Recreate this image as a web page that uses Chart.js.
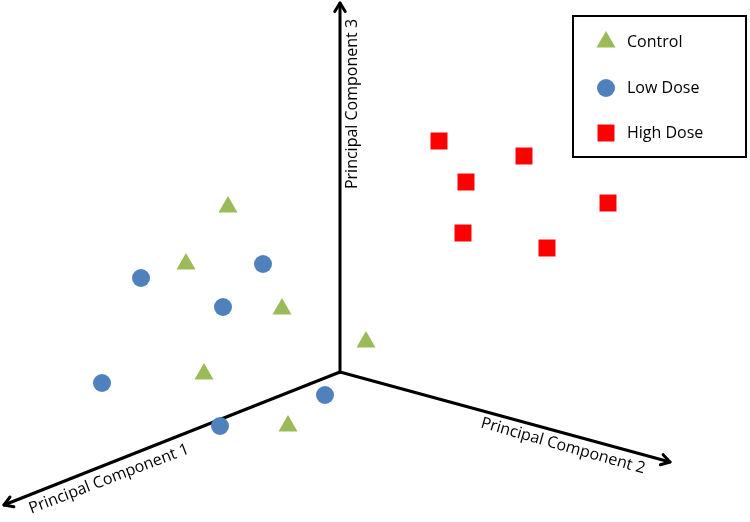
<!DOCTYPE html>
<html lang="en">
<head>
  <meta charset="UTF-8">
  <title>PCA</title>
  <script src="https://cdn.jsdelivr.net/npm/chart.js"></script>
  <style>
    body { margin: 0; background: #fff; }
    #pca { display: block; }
  </style>
</head>
<body>
  <canvas id="pca" width="750" height="522"></canvas>

  <script>
    // groups + projected scores (x right, y up)
    const categories = ['Control', 'Low Dose', 'High Dose'];
    const controlX = [228, 186, 282, 366, 204, 288];
    const controlY = [315, 258, 213, 180, 148, 96];
    const lowX = [141, 263, 223, 102, 325, 220];
    const lowY = [244, 258, 215, 139, 127, 96];
    const highX = [439, 524, 466, 608, 463, 547];
    const highY = [381, 366, 340, 319, 289, 274];

    // component axes, drawn from a common origin
    const axisNames = ['Principal Component 1', 'Principal Component 2', 'Principal Component 3'];
    const axisOrigin = [340, 150];
    const axisEndX = [4, 670, 340];
    const axisEndY = [17, 60, 519];

    const colors = ['#9BBB59', '#4F81BD', '#FF0000'];
    const styles = ['triangle', 'circle', 'rect'];
    const radii = [11, 9, 12];

    const toPoints = (xs, ys) => xs.map((x, i) => ({ x: x, y: ys[i] }));
    const groups = [toPoints(controlX, controlY), toPoints(lowX, lowY), toPoints(highX, highY)];

    const font = '16px "Open Sans", sans-serif';

    const axesPlugin = {
      id: 'axes3d',
      beforeDatasetsDraw(chart) {
        const ctx = chart.ctx;
        const sx = chart.scales.x, sy = chart.scales.y;
        const ox = sx.getPixelForValue(axisOrigin[0]);
        const oy = sy.getPixelForValue(axisOrigin[1]);
        ctx.save();
        ctx.strokeStyle = '#000';
        ctx.lineWidth = 3;
        ctx.lineCap = 'round';
        ctx.lineJoin = 'round';
        axisNames.forEach((name, i) => {
          const ex = sx.getPixelForValue(axisEndX[i]);
          const ey = sy.getPixelForValue(axisEndY[i]);
          const ang = Math.atan2(ey - oy, ex - ox);
          ctx.beginPath();
          ctx.moveTo(ox, oy);
          ctx.lineTo(ex, ey);
          ctx.stroke();
          // open arrow head
          const h = 10;
          ctx.beginPath();
          ctx.moveTo(ex - h * Math.cos(ang - 0.55), ey - h * Math.sin(ang - 0.55));
          ctx.lineTo(ex, ey);
          ctx.lineTo(ex - h * Math.cos(ang + 0.55), ey - h * Math.sin(ang + 0.55));
          ctx.stroke();
        });

        // labels
        ctx.fillStyle = '#000';
        ctx.font = font;
        ctx.textAlign = 'center';
        ctx.textBaseline = 'middle';
        const lab = [[109, 479, -0.365], [563, 446, 0.276], [352, 104, -Math.PI / 2]];
        lab.forEach((l, i) => {
          ctx.save();
          ctx.translate(l[0], l[1]);
          ctx.rotate(l[2]);
          ctx.fillText(axisNames[i], 0, 0);
          ctx.restore();
        });
        ctx.restore();
      },
      afterDraw(chart) {
        const ctx = chart.ctx;
        ctx.save();
        ctx.strokeStyle = '#000';
        ctx.lineWidth = 2;
        ctx.strokeRect(573, 16, 173, 141);
        ctx.font = font;
        ctx.textAlign = 'left';
        ctx.textBaseline = 'middle';
        const rows = [42, 88, 133];
        categories.forEach((c, i) => {
          ctx.fillStyle = colors[i];
          Chart.helpers.drawPoint(ctx, { pointStyle: styles[i], radius: radii[i], rotation: 0, borderWidth: 0 }, 606, rows[i]);
          ctx.fillStyle = '#000';
          ctx.fillText(c, 627, rows[i]);
        });
        ctx.restore();
      }
    };

    new Chart(document.getElementById('pca'), {
      type: 'scatter',
      data: {
        datasets: categories.map((c, i) => ({
          label: c,
          data: groups[i],
          pointStyle: styles[i],
          pointRadius: radii[i],
          pointHoverRadius: radii[i],
          pointBackgroundColor: colors[i],
          pointBorderWidth: 0,
          borderWidth: 0
        }))
      },
      options: {
        responsive: false,
        animation: false,
        layout: { padding: 0, autoPadding: false },
        plugins: {
          legend: { display: false },
          tooltip: { enabled: false }
        },
        scales: {
          x: { type: 'linear', min: 0, max: 750, display: false },
          y: { type: 'linear', min: 0, max: 522, display: false }
        }
      },
      plugins: [axesPlugin]
    });
  </script>
</body>
</html>
